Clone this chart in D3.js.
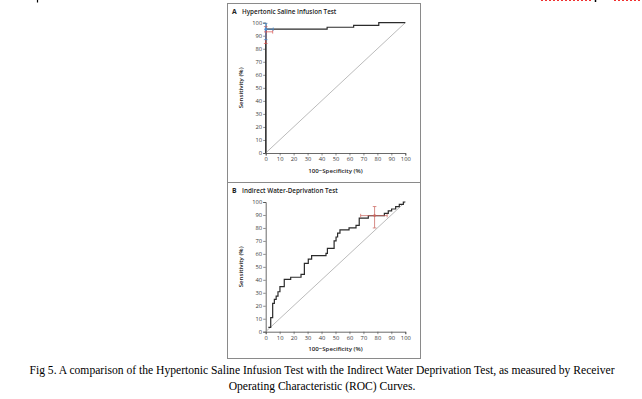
<!DOCTYPE html>
<html>
<head>
<meta charset="utf-8">
<script src="https://cdn.jsdelivr.net/npm/d3@7"></script>
<style>
  body { margin: 0; background: #fff; }
  svg { display: block; }
</style>
</head>
<body>
<svg id="chart" width="642" height="399"></svg>
<script>
// ROC points, [100-specificity, sensitivity]
const hypertonicRoc = [[0, 0], [0, 95], [44, 96.5], [63, 98], [81, 100], [100, 100]];
const waterRoc = [[1.9, 3.4], [3.6, 10.8], [5.0, 21.9], [6.2, 25], [7.5, 27.5], [8.8, 30.8],
  [10.2, 34.7], [13.3, 40.4], [17.9, 42], [25.3, 44.2], [27.7, 52.7], [30.5, 56], [32.9, 58.6],
  [43.2, 60.4], [44.2, 64.3], [49, 70], [50.4, 73], [51.5, 76], [53.2, 78.5], [59.7, 80],
  [64.7, 82], [67, 87.5], [73.5, 89.4], [85, 91.3], [87.8, 93.1], [90.2, 94.6], [93.1, 96.4],
  [95.7, 98.2], [98.6, 100], [100, 100]];

// error bars: centre, x extent, y extent
const hypertonicBars = [
  {cx: 0, cy: 93, x0: 0, x1: 5, y0: 84, y1: 97, color: "#d9534f"},
  {cx: 0, cy: 95, x0: 0, x1: 5.4, y0: 87, y1: 99.5, color: "#4a8fd4"}
];
const waterBars = [
  {cx: 78, cy: 89.5, x0: 68, x1: 87, y0: 80, y1: 96.5, color: "#c9625a"}
];

const ticks = [0, 10, 20, 30, 40, 50, 60, 70, 80, 90, 100];
const panelTitles = ["Hypertonic Saline Infusion Test", "Indirect Water-Deprivation Test"];
const panelLetters = ["A", "B"];
const captionLines = [
  "Fig 5. A comparison of the Hypertonic Saline Infusion Test with the Indirect Water Deprivation Test, as measured by Receiver",
  "Operating Characteristic (ROC) Curves."
];

const svg = d3.select("#chart");
const sans = "'Open Sans', 'DejaVu Sans', sans-serif";

//Outer frame and separator
svg.append("rect").attr("x", 227.5).attr("y", 3.5).attr("width", 193).attr("height", 355)
  .attr("fill", "none").attr("stroke", "#8a8a8a").attr("stroke-width", 1);
svg.append("line").attr("x1", 227.5).attr("x2", 420.5).attr("y1", 182.5).attr("y2", 182.5)
  .attr("stroke", "#8a8a8a").attr("stroke-width", 1);

//Bits of the page above, cut off at the top edge
svg.append("line").attr("x1", 37.5).attr("x2", 37.5).attr("y1", 0).attr("y2", 2.5)
  .attr("stroke", "#000").attr("stroke-width", 1.2);
svg.append("line").attr("x1", 541).attr("x2", 593).attr("y1", 0.5).attr("y2", 0.5)
  .attr("stroke", "#f03030").attr("stroke-width", 1).attr("stroke-dasharray", "2,2");
svg.append("line").attr("x1", 614).attr("x2", 642).attr("y1", 0.5).attr("y2", 0.5)
  .attr("stroke", "#f03030").attr("stroke-width", 1).attr("stroke-dasharray", "2,2");
svg.append("line").attr("x1", 595.5).attr("x2", 595.5).attr("y1", 0).attr("y2", 2)
  .attr("stroke", "#000").attr("stroke-width", 1.5);

const x = d3.scaleLinear().domain([0, 100]).range([265.7, 405.3]);

function drawPanel(i, top, bottom, roc, bars) {
  const y = d3.scaleLinear().domain([0, 100]).range([bottom, top]);
  const g = svg.append("g");

  //Title
  g.append("text").attr("x", 232).attr("y", top - 9).text(panelLetters[i])
    .style("font-family", sans).style("font-size", "6.8px").style("font-weight", "bold").attr("fill", "#222");
  g.append("text").attr("x", 242).attr("y", top - 9).text(panelTitles[i])
    .style("font-family", sans).style("font-size", "6.3px").style("font-weight", "600").attr("fill", "#222");

  //Axes
  const yAxis = g.append("g").attr("transform", `translate(${x(0)},0)`)
    .call(d3.axisLeft(y).tickValues(ticks).tickSize(2.5).tickPadding(1));
  const xAxis = g.append("g").attr("transform", `translate(0,${bottom})`)
    .call(d3.axisBottom(x).tickValues(ticks).tickSize(2.5).tickPadding(1.5));
  [xAxis, yAxis].forEach(a => {
    a.select(".domain").attr("stroke", "#444").attr("stroke-width", 0.8);
    a.selectAll(".tick line").attr("stroke", "#444").attr("stroke-width", 0.6);
    a.selectAll(".tick text").style("font-family", sans).style("font-size", "5.8px").attr("fill", "#3a3a3a");
  });

  //Axis titles
  g.append("text").attr("x", (x(0) + x(100)) / 2).attr("y", bottom + 19.5)
    .attr("text-anchor", "middle").text("100\u2212Specificity (%)")
    .style("font-family", sans).style("font-size", "6.1px").style("font-weight", "600").attr("fill", "#222");
  g.append("text")
    .attr("transform", `translate(243,${(top + bottom) / 2}) rotate(-90)`)
    .attr("text-anchor", "middle").text("Sensitivity (%)")
    .style("font-family", sans).style("font-size", "6.1px").style("font-weight", "600").attr("fill", "#222");

  //Chance diagonal
  g.append("line").attr("x1", x(0)).attr("y1", y(0)).attr("x2", x(100)).attr("y2", y(100))
    .attr("stroke", "#aaa").attr("stroke-width", 0.8);

  //ROC staircase: flat to the next point, then up
  const line = d3.line().x(d => x(d[0])).y(d => y(d[1])).curve(d3.curveStepAfter);
  g.append("path").datum(roc).attr("d", line)
    .attr("fill", "none").attr("stroke", "#2b2b2b").attr("stroke-width", 1.2);

  //Error bars, drawn over the curve
  const cap = 1.8;
  bars.forEach(b => {
    const eb = g.append("g").attr("stroke", b.color).attr("stroke-width", 0.8).attr("opacity", 0.9);
    eb.append("line").attr("x1", x(b.x0)).attr("x2", x(b.x1)).attr("y1", y(b.cy)).attr("y2", y(b.cy));
    eb.append("line").attr("x1", x(b.cx)).attr("x2", x(b.cx)).attr("y1", y(b.y0)).attr("y2", y(b.y1));
    [b.x0, b.x1].forEach(v => eb.append("line").attr("x1", x(v)).attr("x2", x(v))
      .attr("y1", y(b.cy) - cap).attr("y2", y(b.cy) + cap));
    [b.y0, b.y1].forEach(v => eb.append("line").attr("x1", x(b.cx) - cap).attr("x2", x(b.cx) + cap)
      .attr("y1", y(v)).attr("y2", y(v)));
    g.append("circle").attr("cx", x(b.cx)).attr("cy", y(b.cy)).attr("r", 1.3).attr("fill", b.color);
  });
}

drawPanel(0, 22.7, 153, hypertonicRoc, hypertonicBars);
drawPanel(1, 202, 331.7, waterRoc, waterBars);

//Caption
svg.selectAll("text.caption").data(captionLines).enter().append("text")
  .attr("class", "caption")
  .attr("x", 322).attr("y", (d, i) => 374 + i * 16)
  .attr("text-anchor", "middle").text(d => d)
  .style("font-family", "'Liberation Serif', 'Times New Roman', serif").style("font-size", "11.6px").attr("fill", "#000");
</script>
</body>
</html>
